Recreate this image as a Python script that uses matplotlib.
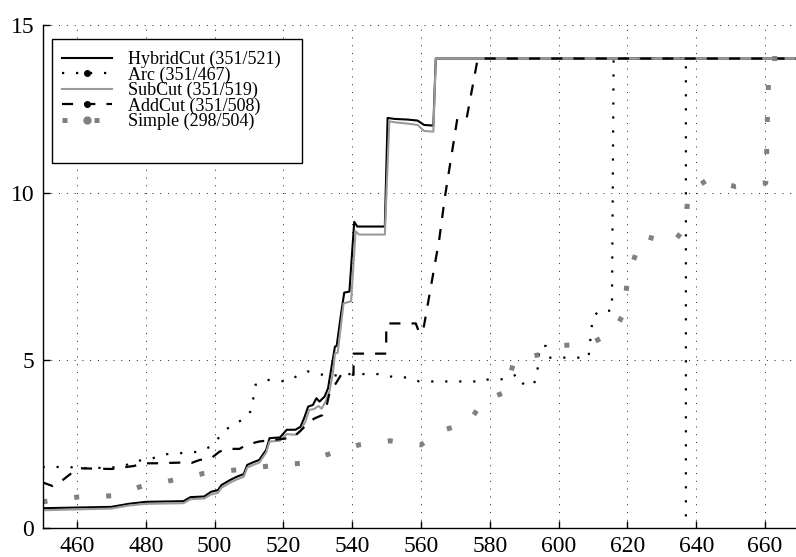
import numpy as np
import matplotlib.pyplot as plt
from matplotlib.lines import Line2D
from matplotlib.patches import Rectangle

plt.rcParams['font.family'] = ['Liberation Serif', 'DejaVu Serif']

# HybridCut (black solid)
hybrid_x = [450, 470, 475, 480, 491, 493, 497, 499, 501, 502, 504.5, 506.5, 508.5, 509.5, 511, 513,
            515, 516, 519, 521, 523.5, 525, 526.2, 527.2, 528.6, 529.6, 530.5, 532, 533, 534, 535,
            535.5, 536.8, 537.7, 539.2, 540.6, 541.5, 549.5, 550.3, 552.2, 556.1, 559, 560.9, 563.6,
            564.3, 669]
hybrid_y = [0.59, 0.63, 0.72, 0.78, 0.80, 0.92, 0.94, 1.08, 1.13, 1.28, 1.43, 1.53, 1.61, 1.88, 1.95, 2.03,
            2.33, 2.68, 2.70, 2.93, 2.93, 3.02, 3.32, 3.62, 3.67, 3.87, 3.77, 3.92, 4.17, 4.80, 5.41,
            5.43, 6.41, 7.02, 7.05, 9.13, 8.99, 8.99, 12.23, 12.20, 12.18, 12.15, 12.02, 12.00,
            14.0, 14.0]

# Arc (black dotted)
arc_x = [450, 458, 460, 470, 474, 476, 481, 486, 495, 499, 500.5, 503, 507, 509, 510.4, 511.3, 511.9,
         515, 520.9, 523.8, 527.1, 530.5, 533.9, 536.8, 548.9, 552.2, 556.1, 559.5, 576.9, 577.4,
         585.1, 588, 589.9, 592.8, 593.8, 594.1, 594.6, 596.3, 597.2, 601, 608.7, 609.5, 609.9,
         611.8, 615.5, 616, 637, 637]
arc_y = [1.82, 1.82, 1.78, 1.80, 1.85, 1.98, 2.05, 2.20, 2.27, 2.43, 2.60, 2.92, 3.17, 3.27, 3.47, 3.88, 4.27,
         4.42, 4.37, 4.52, 4.67, 4.59, 4.52, 4.59, 4.59, 4.49, 4.49, 4.37, 4.37, 4.42,
         4.44, 4.59, 4.27, 4.28, 4.62, 5.01, 5.43, 5.43, 5.08, 5.08, 5.08, 5.88, 6.28,
         6.48, 6.48, 14.0, 14.0, 0.0]

# SubCut (gray solid)
sub_x = [450, 470, 475, 480, 491, 493, 497, 499, 501, 502, 504.5, 506.5, 508.5, 509.5, 511, 513,
         515, 516, 519, 521, 523.5, 525, 526.5, 527.5, 529, 530.2, 531.1, 532.3, 533.4, 534.4, 535,
         535.8, 537.5, 539.7, 541, 542, 549.5, 550.8, 552.2, 556.1, 559, 560.9, 563.6, 564.3, 669]
sub_y = [0.53, 0.58, 0.67, 0.72, 0.74, 0.86, 0.88, 1.00, 1.05, 1.20, 1.35, 1.45, 1.53, 1.80, 1.87, 1.95,
         2.25, 2.58, 2.60, 2.80, 2.78, 2.90, 3.20, 3.52, 3.55, 3.64, 3.56, 3.77, 4.07, 4.62, 5.20,
         5.23, 6.70, 6.76, 8.85, 8.75, 8.75, 12.13, 12.10, 12.06, 12.02, 11.84, 11.82, 14.0, 14.0]

# AddCut (black dashed)
add_x = [450, 453, 455.5, 458.6, 461, 470, 473, 476.6, 479, 483, 490, 493.3, 495.7, 499, 501.5, 504,
         507.3, 509.2, 513, 519, 522.7, 524.7, 527.6, 529.1, 531.4, 532.5, 533.5, 535, 536.8, 540.4,
         540.4, 549.9, 549.9, 558.5, 559.5, 560.5, 561, 565.3, 567, 570.6, 573.3, 576.5, 669]
add_y = [1.36, 1.25, 1.40, 1.65, 1.78, 1.76, 1.80, 1.85, 1.93, 1.93, 1.95, 1.94, 2.03, 2.08, 2.28, 2.36,
         2.36, 2.48, 2.58, 2.65, 2.69, 2.87, 3.17, 3.27, 3.37, 3.61, 4.07, 4.27, 4.57, 4.57,
         5.20, 5.20, 6.10, 6.10, 5.82, 5.85, 6.10, 8.60, 9.90, 12.23, 12.23, 14.0, 14.0]

# Simple (gray squares)
simple_x = [450, 460, 470, 479, 488, 497, 506, 516, 525, 534, 542, 551, 560, 566, 574, 578, 585, 587,
            594, 600, 609, 616, 619, 620, 622.5, 624.5, 633, 637, 637.6, 643.4, 651.5, 660.2, 660.5,
            660.7, 661, 662, 669]
simple_y = [0.78, 0.92, 0.96, 1.25, 1.43, 1.63, 1.73, 1.85, 1.93, 2.23, 2.48, 2.60, 2.48, 2.90, 3.16, 3.79,
            4.07, 5.02, 5.16, 5.44, 5.48, 5.86, 6.41, 7.42, 8.20, 8.72, 8.48, 8.98, 9.98, 10.40, 10.18,
            10.29, 11.28, 12.28, 13.27, 14.0, 14.0]

labels = ['HybridCut (351/521)', 'Arc (351/467)', 'SubCut (351/519)', 'AddCut (351/508)', 'Simple (298/504)']
xticks = [460, 480, 500, 520, 540, 560, 580, 600, 620, 640, 660]
yticks = [0, 5, 10, 15]

gray_line = '#9a9a9a'
gray_sq = '#808080'
arc_ls = (0, (1, 5.3))
add_ls = (0, (5, 5))
sim_ls = (0, (1, 5.4))
serif = ['Liberation Serif', 'DejaVu Serif']

fig = plt.figure(figsize=(7.96, 5.57), dpi=100)
ax = fig.add_axes([42.5 / 796, 29 / 557, (796 - 42.5) / 796, 503 / 557])

ax.plot(hybrid_x, hybrid_y, color='k', lw=1.5)
ax.plot(arc_x, arc_y, color='k', lw=1.6, linestyle=arc_ls)
ax.plot(sub_x, sub_y, color=gray_line, lw=1.5)
ax.plot(add_x, add_y, color='k', lw=1.6, linestyle=add_ls)
ax.plot(simple_x, simple_y, color=gray_sq, lw=3.6, linestyle=sim_ls)

ax.set_xlim(450, 669)
ax.set_ylim(0, 15)
ax.set_xticks(xticks)
ax.set_xticklabels([str(t) for t in xticks], fontfamily=serif, fontsize=17)
ax.set_yticks(yticks)
ax.set_yticklabels([str(t) for t in yticks], fontfamily=serif, fontsize=17)
ax.tick_params(direction='in', length=5, width=1, pad=6)
ax.spines['top'].set_visible(False)
ax.spines['right'].set_visible(False)
for s in ['left', 'bottom']:
    ax.spines[s].set_linewidth(1.0)
ax.grid(True, linestyle=(0, (1, 7)), linewidth=0.7, color='#222222')

# legend frame (drawn separately, it has extra room at the bottom)
ax.add_patch(Rectangle((51.7 / 796, 1 - 163 / 557), 250 / 796, (163 - 39.3) / 557,
                       transform=fig.transFigure, facecolor='white', edgecolor='k',
                       lw=1.0, clip_on=False, zorder=4.9))

handles = [
    Line2D([], [], color='k', lw=1.5),
    Line2D([], [], color='k', lw=1.6, linestyle=arc_ls, marker='o', markersize=4),
    Line2D([], [], color=gray_line, lw=1.5),
    Line2D([], [], color='k', lw=1.6, linestyle=add_ls, marker='o', markersize=4),
    Line2D([], [], color=gray_sq, lw=3.6, linestyle=sim_ls, marker='o', markersize=5),
]
ax.legend(handles, labels, loc='upper left', bbox_to_anchor=(61.7 / 796, 1 - 51 / 557),
          bbox_transform=fig.transFigure, frameon=False, numpoints=1,
          prop={'family': serif, 'size': 13},
          handlelength=2.8, handletextpad=0.85, labelspacing=-0.1, borderpad=0,
          borderaxespad=0)

fig.savefig('out.png', dpi=100)
